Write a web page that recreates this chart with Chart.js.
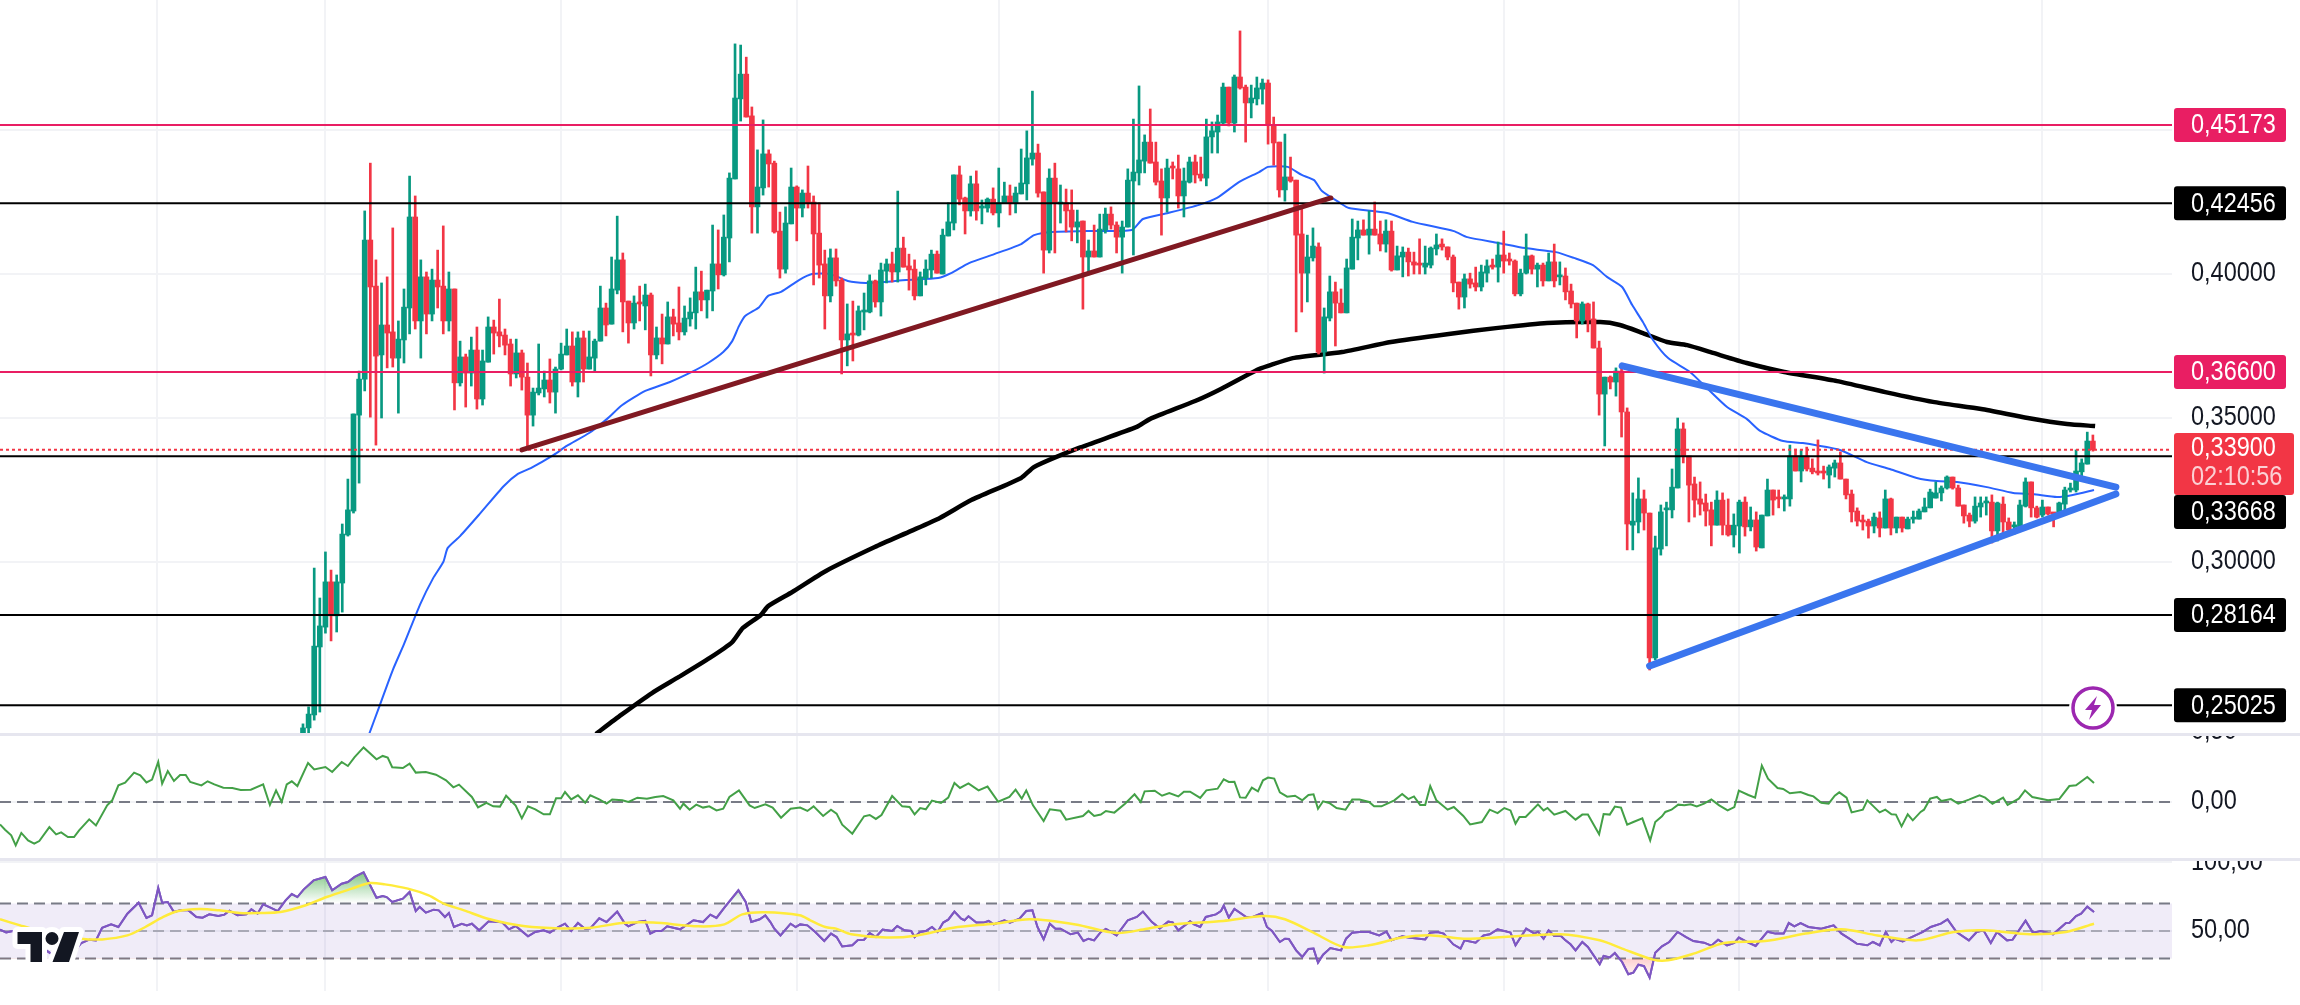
<!DOCTYPE html>
<html>
<head>
<meta charset="utf-8">
<title>Chart</title>
<script src="https://cdn.jsdelivr.net/npm/chart.js@4/dist/chart.umd.js"></script>
<style>
  body { margin: 0; background: #fff; width: 2300px; height: 1005px; overflow: hidden; position: relative; }
  canvas { position: absolute; left: 0; }
  #price-chart { top: 0; }
  #macd-chart { top: 736px; }
  #rsi-chart { top: 861px; }
  .pane-line { position: absolute; left: 0; width: 2300px; height: 3px; background: #e6e6ef; }
</style>
</head>
<body>
<canvas id="price-chart" width="2300" height="733"></canvas>
<div class="pane-line" style="top:733px"></div>
<canvas id="macd-chart" width="2300" height="122"></canvas>
<div class="pane-line" style="top:858px"></div>
<canvas id="rsi-chart" width="2300" height="130"></canvas>
<script>
// candles, one per bar
const opens = [
  .2406,.2424,.2469,.2705,.2774,.2931,.2813,.2927,.3094,.3177,
  .3510,.3635,.4118,.3958,.3719,.3823,.3799,.3708,.3771,.3882,
  .4198,.3837,.3990,.3861,.3979,.3958,.3837,.3948,.3622,.3712,
  .3656,.3736,.3566,.3694,.3816,.3799,.3788,.3757,.3653,.3726,
  .3642,.3510,.3587,.3601,.3632,.3590,.3670,.3719,.3750,.3625,
  .3778,.3670,.3708,.3767,.3882,.3826,.3944,.4049,.3906,.3830,
  .3903,.3889,.3927,.3719,.3778,.3757,.3851,.3830,.3799,.3844,
  .3865,.3938,.3910,.3941,.4035,.3997,.4125,.4330,.4608,.4694,
  .4549,.4233,.4299,.4417,.4385,.4149,.4017,.4174,.4302,.4229,
  .4281,.4250,.4142,.4035,.3924,.4056,.3979,.3771,.3795,.3788,
  .3868,.3868,.3976,.3903,.4010,.4035,.4007,.4090,.4028,.4017,
  .3924,.3986,.4014,.4069,.4000,.4132,.4177,.4344,.4264,.4219,
  .4313,.4229,.4229,.4260,.4212,.4247,.4271,.4247,.4278,.4313,
  .4399,.4420,.4285,.4083,.4333,.4243,.4247,.4222,.4163,.4184,
  .4059,.4080,.4059,.4153,.4208,.4170,.4128,.4163,.4323,.4351,
  .4392,.4458,.4389,.4323,.4264,.4372,.4365,.4271,.4319,.4389,
  .4347,.4333,.4476,.4493,.4524,.4649,.4524,.4684,.4649,.4594,
  .4608,.4642,.4663,.4517,.4458,.4292,.4337,.4326,.4139,.4003,
  .4056,.4094,.3729,.3847,.3938,.3899,.3865,.4017,.4125,.4153,
  .4135,.4156,.4139,.4104,.4149,.4014,.4059,.4076,.4042,.4038,
  .4024,.4031,.4087,.4104,.4094,.4059,.3972,.3920,.3983,.3969,
  .3955,.4003,.4031,.4024,.4066,.4052,.4045,.3931,.4003,.4063,
  .4017,.4031,.3976,.4042,.3990,.3993,.3941,.3899,.3837,.3896,
  .3844,.3743,.3583,.3642,.3625,.3663,.3521,.3128,.3139,.3219,
  .3170,.2667,.3045,.3181,.3181,.3257,.3462,.3368,.3271,.3219,
  .3205,.3181,.3128,.3215,.3128,.3094,.3125,.3208,.3122,.3146,
  .3049,.3160,.3250,.3222,.3219,.3219,.3368,.3316,.3368,.3326,
  .3313,.3313,.3302,.3326,.3344,.3288,.3236,.3177,.3146,.3142,
  .3125,.3153,.3118,.3219,.3118,.3156,.3115,.3149,.3149,.3174,
  .3188,.3222,.3240,.3257,.3295,.3257,.3198,.3163,.3142,.3191,
  .3205,.3208,.3108,.3201,.3139,.3122,.3122,.3194,.3278,.3188,
  .3163,.3191,.3170,.3163,.3201,.3250,.3250,.3313,.3340,.3420,
];
const highs = [
  .2438,.2497,.2979,.2875,.3035,.2972,.2955,.3132,.3288,.3514,
  .3663,.4219,.4385,.4049,.3969,.3990,.4160,.3837,.3948,.4340,
  .4271,.4049,.4007,.4017,.4083,.4167,.4007,.3948,.3767,.3722,
  .3781,.3816,.3736,.3851,.3840,.3913,.3809,.3774,.3774,.3736,
  .3691,.3604,.3757,.3663,.3705,.3677,.3760,.3809,.3799,.3799,
  .3802,.3802,.3774,.3958,.3899,.4059,.4201,.4073,.3906,.3924,
  .3958,.3965,.3934,.3816,.3861,.3903,.3878,.3955,.3889,.3917,
  .4024,.4010,.3944,.4170,.4153,.4205,.4351,.4799,.4795,.4753,
  .4580,.4431,.4535,.4431,.4392,.4215,.4233,.4368,.4306,.4292,
  .4375,.4271,.4247,.4083,.4087,.4087,.3986,.3896,.3906,.3889,
  .3934,.3997,.3979,.4038,.4052,.4076,.4288,.4128,.4069,.4049,
  .4007,.4049,.4083,.4080,.4156,.4247,.4344,.4375,.4267,.4340,
  .4358,.4257,.4264,.4299,.4368,.4319,.4309,.4302,.4434,.4497,
  .4635,.4451,.4285,.4365,.4385,.4309,.4295,.4292,.4222,.4184,
  .4118,.4170,.4208,.4229,.4233,.4181,.4184,.4365,.4538,.4653,
  .4483,.4573,.4458,.4365,.4399,.4389,.4413,.4368,.4406,.4413,
  .4406,.4538,.4528,.4552,.4663,.4649,.4691,.4844,.4656,.4656,
  .4684,.4677,.4674,.4545,.4458,.4486,.4406,.4326,.4229,.4135,
  .4160,.4108,.3882,.3993,.3972,.3948,.4052,.4191,.4184,.4188,
  .4219,.4250,.4184,.4188,.4184,.4097,.4094,.4090,.4076,.4122,
  .4097,.4094,.4139,.4122,.4094,.4066,.3972,.4000,.4003,.4024,
  .4031,.4049,.4052,.4111,.4149,.4073,.4049,.4017,.4139,.4066,
  .4038,.4038,.4073,.4104,.4042,.4021,.3965,.3899,.3903,.3899,
  .3903,.3767,.3642,.3646,.3674,.3674,.3535,.3240,.3292,.3250,
  .3170,.3090,.3198,.3208,.3323,.3500,.3483,.3368,.3295,.3278,
  .3236,.3208,.3247,.3240,.3219,.3167,.3215,.3226,.3191,.3174,
  .3163,.3288,.3250,.3250,.3233,.3406,.3392,.3389,.3399,.3358,
  .3424,.3333,.3337,.3354,.3382,.3288,.3250,.3188,.3163,.3149,
  .3170,.3174,.3250,.3222,.3156,.3156,.3156,.3177,.3184,.3222,
  .3253,.3278,.3264,.3299,.3295,.3267,.3198,.3170,.3226,.3226,
  .3226,.3233,.3208,.3226,.3153,.3139,.3215,.3292,.3278,.3194,
  .3215,.3191,.3170,.3208,.3260,.3274,.3389,.3358,.3451,.3441,
];
const lows = [
  .2406,.2406,.2451,.2479,.2753,.2726,.2757,.2826,.3090,.3170,
  .3274,.3594,.3503,.3406,.3500,.3674,.3677,.3517,.3691,.3792,
  .3809,.3708,.3792,.3837,.3882,.3792,.3802,.3528,.3611,.3538,
  .3611,.3531,.3545,.3694,.3722,.3747,.3719,.3611,.3639,.3597,
  .3396,.3472,.3580,.3573,.3552,.3517,.3667,.3719,.3611,.3573,
  .3625,.3670,.3660,.3767,.3785,.3826,.3931,.3799,.3760,.3809,
  .3837,.3806,.3646,.3705,.3688,.3757,.3785,.3771,.3788,.3819,
  .3809,.3872,.3847,.3872,.3948,.3993,.4042,.4330,.4531,.4545,
  .4142,.4142,.4274,.4302,.4142,.3986,.4003,.4174,.4115,.4198,
  .4229,.3962,.3986,.3809,.3903,.3958,.3653,.3681,.3698,.3785,
  .3806,.3865,.3885,.3854,.3969,.3972,.3972,.4024,.3944,.3910,
  .3924,.3962,.3986,.4003,.4000,.4132,.4153,.4240,.4139,.4201,
  .4187,.4174,.4215,.4205,.4163,.4247,.4205,.4212,.4278,.4257,
  .4378,.4267,.4003,.4073,.4073,.4177,.4146,.4115,.4108,.3878,
  .3997,.4059,.4059,.4142,.4156,.4073,.4003,.4163,.4066,.4309,
  .4351,.4385,.4309,.4135,.4215,.4330,.4229,.4198,.4316,.4316,
  .4323,.4306,.4420,.4420,.4521,.4514,.4493,.4642,.4458,.4542,
  .4587,.4590,.4451,.4378,.4267,.4253,.4319,.3799,.3868,.3903,
  .4045,.3722,.3656,.3837,.3750,.3865,.3865,.4017,.4049,.4135,
  .4069,.4135,.4080,.4076,.4010,.4014,.3990,.3993,.4000,.4000,
  .4000,.4021,.4066,.4083,.4049,.3938,.3878,.3882,.3951,.3941,
  .3941,.3972,.4017,.3972,.4003,.4031,.3924,.3924,.4000,.4000,
  .3955,.3958,.3976,.3955,.3962,.3910,.3882,.3778,.3826,.3799,
  .3743,.3510,.3403,.3601,.3576,.3434,.3042,.3042,.3101,.3111,
  .2625,.2660,.3024,.3056,.3153,.3257,.3344,.3139,.3156,.3163,
  .3125,.3056,.3128,.3094,.3090,.3052,.3031,.3090,.3108,.3038,
  .3049,.3160,.3163,.3188,.3177,.3194,.3316,.3278,.3316,.3306,
  .3302,.3288,.3257,.3295,.3288,.3219,.3139,.3125,.3111,.3083,
  .3101,.3087,.3118,.3094,.3101,.3104,.3115,.3135,.3149,.3174,
  .3188,.3222,.3212,.3253,.3253,.3194,.3135,.3122,.3135,.3156,
  .3163,.3066,.3073,.3101,.3101,.3097,.3122,.3191,.3156,.3153,
  .3156,.3163,.3122,.3160,.3174,.3243,.3243,.3295,.3340,.3385,
];
const closes = [
  .2424,.2472,.2708,.2778,.2931,.2813,.2931,.3097,.3181,.3514,
  .3635,.4118,.3955,.3715,.3823,.3795,.3708,.3774,.3885,.4198,
  .3837,.3990,.3861,.3979,.3955,.3837,.3948,.3622,.3712,.3656,
  .3736,.3566,.3698,.3816,.3795,.3785,.3753,.3653,.3726,.3642,
  .3510,.3590,.3604,.3632,.3590,.3670,.3722,.3750,.3625,.3778,
  .3670,.3712,.3767,.3882,.3823,.3948,.4049,.3903,.3830,.3899,
  .3896,.3927,.3719,.3778,.3757,.3851,.3826,.3799,.3847,.3868,
  .3938,.3910,.3944,.4035,.3997,.4128,.4333,.4611,.4694,.4545,
  .4233,.4302,.4417,.4382,.4146,.4017,.4177,.4302,.4229,.4281,
  .4247,.4139,.4031,.3924,.4056,.3976,.3771,.3792,.3788,.3872,
  .3875,.3976,.3903,.4014,.4035,.4007,.4090,.4024,.4014,.3924,
  .3990,.4017,.4069,.4003,.4135,.4181,.4344,.4260,.4219,.4313,
  .4219,.4233,.4260,.4212,.4247,.4271,.4247,.4281,.4316,.4403,
  .4420,.4281,.4083,.4333,.4247,.4250,.4219,.4163,.4181,.4059,
  .4080,.4059,.4156,.4208,.4170,.4128,.4163,.4326,.4354,.4396,
  .4458,.4385,.4319,.4264,.4368,.4368,.4271,.4323,.4389,.4344,
  .4333,.4476,.4497,.4528,.4649,.4524,.4684,.4646,.4594,.4611,
  .4646,.4663,.4517,.4455,.4292,.4337,.4323,.4135,.4003,.4059,
  .4097,.3729,.3851,.3938,.3899,.3865,.4021,.4128,.4153,.4135,
  .4156,.4135,.4104,.4149,.4014,.4063,.4076,.4042,.4031,.4031,
  .4038,.4090,.4101,.4094,.4059,.3969,.3920,.3983,.3965,.3955,
  .4007,.4028,.4024,.4066,.4045,.4045,.3931,.4003,.4063,.4017,
  .4031,.3976,.4042,.3976,.3997,.3938,.3896,.3837,.3896,.3840,
  .3743,.3583,.3642,.3625,.3663,.3521,.3132,.3142,.3219,.3170,
  .2667,.3049,.3174,.3184,.3260,.3462,.3368,.3267,.3215,.3201,
  .3177,.3128,.3215,.3128,.3094,.3128,.3208,.3122,.3146,.3052,
  .3163,.3250,.3215,.3219,.3222,.3368,.3316,.3368,.3323,.3313,
  .3309,.3309,.3330,.3344,.3288,.3233,.3174,.3142,.3139,.3125,
  .3156,.3118,.3219,.3118,.3156,.3118,.3149,.3153,.3177,.3191,
  .3243,.3240,.3257,.3295,.3257,.3194,.3160,.3142,.3194,.3205,
  .3208,.3108,.3205,.3139,.3111,.3125,.3198,.3278,.3188,.3156,
  .3191,.3167,.3167,.3205,.3250,.3253,.3316,.3344,.3420,.3390,
];

// moving averages on the price pane
const ema50Bars = [11.8,13.5,16,18,20.9,23.2,25,25.8,28,31.5,35.8,38.3,40.6,44.7,47,51,54.2,56.9,61,65.4,69.3,72.2,74.9,76.5,77.7,78.8,81.3,82.9,85.2,88.4,90.7,93.9,97.1,100.3,103.5,107.5,113.2,115.5,118.7,123.2,128,130.3,133.5,139.7,147.7,149.7,154.2,159.7,162.9,166.8,170.4,172,175.5,178,180.2,181.6,184.8,186.4,193.2,197.8,205.1,207.5,213,217.8,223.3,226.5,229.9,232.4,235.1,236.9,238.8,240.6,243.3,247.2,250.2,253.8,257.3,259.7,263.8,267.3,273.9,278.7,282.8,287.6,291.2,294.8,300.1,304.8,308.3,312.6,315.4,319.2];
const ema50 = [.2403,.2493,.2625,.2715,.2854,.2944,.3000,.3049,.3090,.3167,.3264,.3306,.3326,.3372,.3403,.3448,.3497,.3545,.3594,.3625,.3660,.3691,.3729,.3767,.3819,.3854,.3885,.3924,.3938,.3979,.4000,.4000,.3976,.3969,.3972,.3979,.3986,.4003,.4038,.4069,.4104,.4135,.4146,.4149,.4153,.4191,.4212,.4240,.4264,.4319,.4354,.4372,.4372,.4344,.4326,.4288,.4247,.4229,.4212,.4181,.4149,.4128,.4108,.4090,.4076,.4056,.4031,.3990,.3955,.3892,.3833,.3771,.3708,.3660,.3604,.3538,.3497,.3455,.3420,.3413,.3389,.3347,.3323,.3292,.3281,.3278,.3260,.3240,.3236,.3226,.3233,.3250];
const ema200Bars = [52.2,56.7,62.2,67,72.5,76.5,78.4,81.6,82.9,87.2,93.2,101.9,108.4,113.5,119.1,128,130.3,138.3,148.6,151,159,163.6,170,172,176.4,185.2,193.9,204.2,213,221.7,231.2,234.7,238.8,243.1,246.7,251.3,257.3,264,273.4,282,290.5,299.1,307.4,314.4,319.4];
const ema200 = [.2403,.2469,.2545,.2601,.2667,.2722,.2771,.2816,.2847,.2896,.2969,.3052,.3108,.3153,.3215,.3292,.3330,.3396,.3469,.3497,.3559,.3601,.3667,.3681,.3708,.3729,.3764,.3792,.3813,.3830,.3833,.3823,.3795,.3764,.3753,.3726,.3691,.3660,.3628,.3590,.3556,.3531,.3500,.3479,.3472];

// drawn levels and trend lines
const redLevels = [0.45173, 0.366];
const blackLevels = [0.42456, 0.33668, 0.28164, 0.25025];
const lastPrice = 0.339;
const brownTrendBars = [39, 183.2];
const brownTrend = [.3389, .4264];
const upperTrendBars = [235.1, 323.1];
const upperTrend = [.3681, .3260];
const lowerTrendBars = [240, 323.1];
const lowerTrend = [.2639, .3236];

// oscillator (green line)
const macdBars = [-54,-53.1,-52,-51.2,-50.2,-49,-47.9,-47,-45.2,-44,-43.1,-41.9,-40.8,-39.9,-38.1,-36.9,-34.9,-34,-32.9,-31.7,-30.1,-29,-27.9,-26.9,-25.8,-25.1,-24.1,-23,-21.9,-20.9,-20.1,-18.1,-17,-15.8,-14.2,-12.6,-11.1,-9.3,-7.1,-5.9,-4.8,-3.8,-2.9,-2,-1,.9,2,4,5.2,6.9,8,9.2,10.8,13.1,14.2,15.1,15.9,17.8,19,20.1,21.9,23.7,25.5,26.8,27.8,30.1,31.2,32.7,33.9,35.1,36.2,37.9,39,40.1,41.4,42.9,44,45.1,46,46.7,47.8,49,50.3,51.2,52.8,54.1,55.1,56.9,58,59.6,61.3,62.8,64.2,66,67.2,67.8,68.9,70.1,71.3,72.4,73.7,74.9,76,77.7,79.6,80.5,82.4,83.7,85.2,86.9,
  88.6,89.9,91,92.7,94.1,95.1,96.1,97.9,100,101,102.1,103.1,105,106.8,108.1,109,110,111,112.1,113.7,115,116.1,117.1,118.6,120.4,122,123.9,125.9,127,128.1,128.9,130.1,132,133.1,135,136,139,140,141,142.2,143.1,144.6,146.5,148.2,149.3,150,151.8,153.1,154.4,156,157,158.1,159.9,161,163,164.1,165,166,167,168,169.1,170.2,171.1,172,173.1,174.1,175.4,176.8,178.1,179.2,180.1,180.9,181.8,182.9,184.2,185.8,187,188.3,190,190.9,192.2,194.5,195.9,197,198,199.1,200,200.9,202,204,205.1,206.8,208,210.1,211.5,212.9,214.1,215.2,216.1,216.8,217.9,220.1,221.1,221.8,223,225,226.8,228,229,
  231,231.8,232.9,233.8,234.9,236,237.1,238.7,240.1,241,242.2,242.8,243.9,245.1,246.2,247.3,248.4,249.7,251,252.4,253.9,255.1,255.9,257.6,258.8,260,261.1,262.8,263.8,265,266.9,268.3,269.2,270.6,271.9,273,273.8,275.1,276,278,278.8,281,282,283.1,283.9,284.9,286,286.9,288.3,288.9,290,291.2,292,293.7,295,296.9,298.8,299.8,301.1,303,303.8,305.8,306.9,308.2,311,313,314.8,316,318,319.2];
const macdValues = [-.160,-.198,-.238,-.310,-.221,-.274,-.298,-.279,-.179,-.231,-.217,-.250,-.250,-.202,-.124,-.167,-.024,.012,.119,.138,.210,.190,.140,.160,.286,.131,.221,.150,.193,.193,.143,.119,.148,.126,.102,.100,.086,.088,.126,-.021,.083,0,.126,.148,.114,.279,.233,.250,.214,.286,.257,.321,.390,.305,.329,.317,.248,.243,.274,.210,.214,.195,.155,.105,.124,.036,-.038,-.007,-.031,-.033,.045,-.026,-.117,-.031,-.052,-.088,-.088,.026,.026,.071,.019,.048,-.005,.048,.019,-.012,.017,.012,0,.031,.024,.036,.043,.012,-.048,-.012,-.055,-.019,-.040,-.031,-.060,-.048,.036,.083,-.024,-.043,-.017,-.040,-.112,-.048,
  -.040,-.064,-.031,-.100,-.055,-.083,-.162,-.226,-.102,-.093,-.121,-.093,.043,-.031,-.036,-.088,-.043,-.052,.010,-.007,.031,.136,.100,.133,.083,.110,.002,.036,.088,.024,.083,-.024,-.136,-.052,-.062,-.126,-.100,-.064,-.100,-.090,-.064,-.076,-.012,.055,0,.076,.081,.045,.064,.040,.074,.074,.029,.083,.095,.162,.143,.145,.033,.031,.102,.076,.155,.174,.167,.069,.038,.045,.012,.050,.055,-.048,.005,-.007,-.043,-.055,.017,.017,0,-.031,-.031,.012,.057,.021,.040,-.021,-.021,.114,.012,-.055,-.036,-.100,-.160,-.143,-.055,-.079,-.043,-.060,-.155,-.107,-.107,-.017,-.060,-.043,-.090,-.064,-.126,-.090,-.090,
  -.231,-.086,-.090,-.033,-.040,-.162,-.143,-.117,-.274,-.143,-.102,-.071,-.055,-.019,-.024,-.017,-.031,-.012,.019,-.024,-.060,-.036,.081,.050,.031,.260,.167,.100,.093,.062,.071,.050,.040,-.005,-.012,.045,.069,.031,-.074,-.055,.012,-.074,-.055,-.088,-.090,-.174,-.088,-.131,-.071,-.055,.024,.036,.007,.021,-.012,.017,.048,.031,-.012,.031,-.021,.024,.083,.036,.012,.021,.114,.119,.179,.136];

// RSI and its average
const rsiBars = [-54,-52.9,-51.7,-50.4,-48.5,-46.7,-44.9,-43.1,-40.8,-39.5,-38.1,-36.9,-35.8,-34.2,-32.9,-31.3,-29.3,-27.9,-26.9,-25.8,-25.1,-24.1,-23,-21.9,-20.4,-19,-17.9,-16.7,-15.1,-14,-13.1,-11.7,-10.1,-9.2,-8.1,-7.1,-5.8,-4.5,-3.1,-2,-1,.1,1.9,4,5.2,6.9,8,9.2,10.8,13.1,14.2,14.9,15.9,17.8,19,20.1,20.8,21.9,23.3,24.2,25.3,26,26.9,28.3,29.2,30.1,31.4,33.1,35.5,36.7,37.9,40.1,41.4,42.9,44,45.5,46.7,47.8,49,50.3,51.2,52.8,54.1,56,57.4,58,59.6,61,61.9,62.8,63.9,64.9,67.2,69.6,71.3,72.6,73.7,75.1,77.6,78.9,79.9,81.4,82.4,83.3,84,85.1,86.9,87.8,
  88.6,89.9,91.3,92.9,94.1,95.1,96.1,97.9,98.9,100,101,102.1,103.3,105,105.9,107.2,108.4,109,110,111,112.1,113.1,114.1,115,116.1,117.3,117.9,118.6,120,121.3,122.2,123.1,125,126,127.7,128.9,130,130.9,132,133.1,134.1,135,136.8,138.1,139.1,140,141,142.2,143.1,145,147,148.6,149.7,151.3,152.7,154.2,155,156,158.1,158.8,159.9,160.9,162.7,163.6,164.1,165,166,168.1,169.3,170.9,171.8,172.7,174.1,175,175.7,177,178.1,179.2,180.1,180.9,181.8,183.1,185,185.9,187,188.3,190,191.8,193.1,194,195.9,197,200,200.9,202.2,203.3,205,206.3,207,209,210.4,211.5,212.9,215.2,216.1,218,219.5,220.1,221.1,222,223,224.2,225,225.9,226.8,228,229,231.1,
  231.8,232.9,233.8,235.1,236.2,237.1,238,239,240,241,242.2,243.5,245,246.5,247.8,249.7,251,252.2,253.8,255.1,255.9,257.6,258.9,261,262.4,263.9,264.8,265.8,266.9,268.3,270.6,272.8,274.2,275.6,276.9,278.8,279.8,281,282.1,283.1,283.7,285.1,286.5,288.7,290.1,291.9,293.1,294.7,296.9,298.3,299.5,300.8,301.9,303.7,304.7,307,308.3,309.7,311.9,314.2,314.8,316,316.9,318,319.2];
const rsiValues = [51,49,50,48,45.6,38.4,33.5,33.5,34.7,41.3,43.7,43.2,52.4,54.8,52.9,62.6,70.6,59.5,61.4,81.3,70.6,71.1,63.8,65,65,60.2,59.7,62.1,60.9,61.9,64.8,61.4,62.1,65.8,62.6,69.4,67,64.5,72.3,76.9,74.7,80.1,86.8,89.3,79.6,84.4,85.6,89.3,92.7,74.2,75.5,74.7,71.1,73.5,78.4,64.5,67.5,63.3,65.5,65,60.2,63.1,52.9,55.3,54.1,55.3,50.5,57,56.3,51.2,53.6,46.1,49.3,50.5,48.8,52.9,55.3,50,55.8,51.5,51.9,59.2,56.5,64.1,55.3,53.4,56.5,57.3,48.1,50,50,53.4,51.2,57.8,56.5,61.9,59.5,67,79.6,71.1,56.5,58.5,61.4,56.5,51.7,46.8,55.3,52.9,
  54.8,54.1,49.3,42.7,48.1,45.6,38.8,39.6,43.5,43.7,48.5,45.6,51,50,53.6,50.5,50,45.6,49.3,50,52.9,49.3,56.1,58.2,64.1,59,57.8,60.7,56.1,56.1,57.3,54.8,57.8,56.1,59,64.5,65,52.9,43.9,55.3,51.7,51.7,47.6,48.8,42.7,44.4,43.2,49.3,51.5,46.8,57.8,60.2,64.1,56.5,51.9,56.8,56.3,50.5,57,54.8,52.9,60.2,62.1,64.5,68.4,59.7,66,60.2,60.2,63.1,52.9,50,42,44.4,44.2,35.9,31.1,36.9,37.2,27,32.8,37.6,35.9,44.4,48.8,49.3,49.3,46.8,49.5,43.2,46.1,45.2,43.9,48.8,49.3,48.1,40.3,37.2,43.2,41.5,46.8,47.6,51.2,48.8,39.6,51.7,48.1,49.5,44.4,50.5,46.4,46.4,43.2,40.3,35.9,42,38.4,25.8,
  31.8,30.8,34,27.5,18.5,19.7,25.5,24.5,16.1,34.2,38.8,42,49.3,45.6,42.7,41.5,39.3,43.7,39.6,41.3,45.2,41.5,39.1,49.5,48.1,48.1,55.8,53.4,55.8,52.9,51.7,54.1,48.1,44.4,40.8,39.6,42,39.6,49.3,42,44.4,42.5,45.2,49.3,52.9,55.3,58.5,49.3,43.2,49.3,50.5,41.3,49.3,43.2,43.7,57.5,48.8,50,47.6,55.8,55.8,60.9,62.6,67.7,63.8];
const rsiMaBars = [-54,-50.4,-47.6,-44,-39.5,-35.8,-31.3,-28.1,-24.9,-22.2,-18.5,-14.9,-11.3,-7.6,-4,.5,4.2,8.7,11.9,14.6,18.7,22.4,25.1,28.7,33.3,39.6,46,51.4,56.9,62.4,70.5,75.1,78.3,82.4,88.5,90.4,93.1,95,97.7,104,109.5,115.9,123.1,129.5,137.7,145,150.4,155,164,171.3,175,180.4,185.4,190,195.9,201.3,206.8,214,224,231.1,235.1,240.6,243.3,247.8,253.3,260.6,267.8,274.2,280.6,287.8,294.2,299.7,307.8,314.2,319.2];
const rsiMa = [58.5,54.1,50.9,48.1,44.4,43.9,46.8,52.9,60.2,64.5,66,65,63.1,63.1,63.8,68.7,74.7,80.8,84.9,83.9,80.8,75.9,69.9,65,58.5,53.4,51.9,52.4,55.8,56.1,53.4,54.8,62.1,63.6,61.4,57.8,52.9,51.7,47.6,45.2,46.8,52.4,55.3,58.5,54.8,48.5,51.7,54.8,57.3,60.9,58.5,48.1,38.4,39.6,45.2,46.8,44.4,45.6,47.6,43.2,37.2,29.2,28.7,33.5,41.3,42.7,48.1,51.2,46.8,43.2,49.3,50.5,47.6,49.3,55.3];

// axes
const priceTicks = [0.25, 0.3, 0.35, 0.4, 0.45];
const hiddenPriceTicks = [0.25, 0.45];
const macdTicks = [0, 0.5];
const rsiTicks = [50, 100];
const rsiBandTop = 70;
const rsiBandBottom = 30;
const timeGridBars = [-26, 4, 46, 88, 124, 172, 214, 256, 310];

// price tags on the right
const tagValues = [0.45173, 0.42456, 0.366, 0.33668, 0.28164, 0.25025];
const tagTexts = ["0,45173", "0,42456", "0,36600", "0,33668", "0,28164", "0,25025"];
const lastPriceText = "0,33900";
const countdownText = "02:10:56";

const GREEN = "#089981";
const RED = "#f23645";
const PINK = "#e91e63";
const BLUE = "#2962ff";
const TREND_BLUE = "#3a75ee";
const GRID = "#f2f3f6";
const TEXT = "#131722";
const DASH = "#787b86";
const AXIS_FONT = "27px 'Liberation Sans', sans-serif";
const AXIS_WIDTH = 128;
const LABEL_X = 2191;
const X_MIN = -54;
const X_MAX = 333.1;

const decimalComma = (value, digits) => value.toFixed(digits).replace(".", ",");
const zip = (xs, ys) => xs.map((x, i) => ({ x: x, y: ys[i] }));
const candleColor = (c) => (closes[c.dataIndex] >= opens[c.dataIndex] ? GREEN : RED);

// the axis text in the picture is narrower than any installed font
function narrowText(ctx, text, x, y, color) {
  ctx.save();
  ctx.font = AXIS_FONT;
  ctx.textAlign = "left";
  ctx.textBaseline = "middle";
  ctx.fillStyle = color;
  ctx.translate(x, y);
  ctx.scale(0.87, 1);
  ctx.fillText(text, 0, 0);
  ctx.restore();
}

function lineSet(points, color, width, order, extra) {
  return Object.assign({
    type: "line",
    data: points,
    borderColor: color,
    borderWidth: width,
    pointRadius: 0,
    fill: false,
    order: order,
  }, extra);
}

function flatLine(value, color, width, order, extra) {
  return lineSet([{ x: X_MIN, y: value }, { x: X_MAX, y: value }], color, width, order, extra);
}

function xAxis() {
  return {
    type: "linear",
    min: X_MIN,
    max: X_MAX,
    offset: false,
    border: { display: false },
    grid: { color: GRID, lineWidth: 2, drawTicks: false, offset: false },
    ticks: { display: false, autoSkip: false },
    afterBuildTicks: (axis) => { axis.ticks = timeGridBars.map((v) => ({ value: v })); },
    afterFit: (axis) => { axis.height = 0; },
  };
}

function yAxis(min, max, ticks, label) {
  return {
    position: "right",
    min: min,
    max: max,
    border: { display: false },
    grid: { color: GRID, lineWidth: 2, drawTicks: false },
    ticks: { display: false, autoSkip: false, callback: label },
    afterBuildTicks: (axis) => { axis.ticks = ticks.map((v) => ({ value: v })); },
    afterFit: (axis) => {
      axis.width = AXIS_WIDTH;
      axis.paddingTop = 0;
      axis.paddingBottom = 0;
    },
  };
}

function baseOptions(yScale) {
  return {
    responsive: false,
    animation: false,
    layout: { padding: 0 },
    plugins: { legend: { display: false }, tooltip: { enabled: false } },
    scales: { x: xAxis(), y: yScale },
  };
}

// writes the labels of the y axis ticks
const axisLabels = {
  id: "axisLabels",
  afterDraw(chart) {
    const axis = chart.scales.y;
    axis.ticks.forEach((tick) => {
      if (tick.label) {
        narrowText(chart.ctx, tick.label, LABEL_X, axis.getPixelForValue(tick.value), TEXT);
      }
    });
  },
};

function drawTag(ctx, top, height, width, color) {
  ctx.fillStyle = color;
  ctx.beginPath();
  ctx.roundRect(2174, top, width, height, 3);
  ctx.fill();
}

// boxes with the level prices and the purple bolt icon
const priceDecorations = {
  id: "priceDecorations",
  afterDraw(chart) {
    const ctx = chart.ctx;
    const y = chart.scales.y;
    ctx.save();

    // bolt icon sits on the lowest level line
    ctx.beginPath();
    ctx.fillStyle = "#fff";
    ctx.arc(2093, 708, 24, 0, Math.PI * 2);
    ctx.fill();
    ctx.beginPath();
    ctx.strokeStyle = "#9c27b0";
    ctx.lineWidth = 3.5;
    ctx.arc(2093, 708, 20, 0, Math.PI * 2);
    ctx.stroke();
    ctx.beginPath();
    ctx.fillStyle = "#9c27b0";
    ctx.moveTo(2097, 696);
    ctx.lineTo(2085, 710);
    ctx.lineTo(2092, 710);
    ctx.lineTo(2089, 720);
    ctx.lineTo(2101, 705);
    ctx.lineTo(2094, 705);
    ctx.closePath();
    ctx.fill();

    tagValues.forEach((value, i) => {
      const isRed = redLevels.includes(value);
      // the 0,33668 tag gets pushed below the last price box
      const center = value === 0.33668 ? 512 : y.getPixelForValue(value);
      drawTag(ctx, center - 17, 34, 112, isRed ? PINK : "#000");
      narrowText(ctx, tagTexts[i], LABEL_X, center + 1, "#fff");
    });

    drawTag(ctx, 433, 62, 120, RED);
    narrowText(ctx, lastPriceText, LABEL_X, 449, "#fff");
    narrowText(ctx, countdownText, LABEL_X, 478, "#fbd0d4");
    ctx.restore();
  },
};

// TradingView mark in the corner of the last pane
const logoMark = {
  id: "logoMark",
  afterDraw(chart) {
    const ctx = chart.ctx;
    ctx.save();
    ctx.beginPath();
    ctx.moveTo(17.5, 71);
    ctx.lineTo(42, 71);
    ctx.lineTo(42, 101);
    ctx.lineTo(30.5, 101);
    ctx.lineTo(30.5, 83);
    ctx.lineTo(17.5, 83);
    ctx.closePath();
    ctx.moveTo(64, 71);
    ctx.lineTo(79, 71);
    ctx.lineTo(69, 101);
    ctx.lineTo(52.5, 101);
    ctx.closePath();
    ctx.moveTo(58.5, 77.5);
    ctx.arc(52, 77.5, 6.5, 0, Math.PI * 2);
    ctx.lineJoin = "round";
    ctx.strokeStyle = "#fff";
    ctx.lineWidth = 10;
    ctx.stroke();
    ctx.fillStyle = TEXT;
    ctx.fill();
    ctx.restore();
  },
};

// price pane
new Chart(document.getElementById("price-chart"), {
  type: "bar",
  data: {
    datasets: [
      lineSet(zip(ema200Bars, ema200), "#000", 4.5, 6, { tension: 0.2 }),
      lineSet(zip(ema50Bars, ema50), BLUE, 2, 5, { tension: 0.2 }),
      {
        label: "wicks",
        data: lows.map((low, i) => ({ x: i, y: [low, highs[i]] })),
        backgroundColor: candleColor,
        barThickness: 2,
        grouped: false,
        order: 4,
      },
      {
        label: "bodies",
        data: opens.map((open, i) => ({ x: i, y: [open, closes[i]] })),
        backgroundColor: candleColor,
        barThickness: 5,
        minBarLength: 2,
        grouped: false,
        order: 3,
      },
      ...redLevels.map((v) => flatLine(v, PINK, 2, 2)),
      ...blackLevels.map((v) => flatLine(v, "#000", 2, 2)),
      flatLine(lastPrice, RED, 2, 2, { borderDash: [3, 3] }),
      lineSet(zip(brownTrendBars, brownTrend), "#801922", 5, 1, { borderCapStyle: "round" }),
      lineSet(zip(upperTrendBars, upperTrend), TREND_BLUE, 7, 1, { borderCapStyle: "round" }),
      lineSet(zip(lowerTrendBars, lowerTrend), TREND_BLUE, 7, 1, { borderCapStyle: "round" }),
    ],
  },
  options: baseOptions(yAxis(0.24063, 0.49514, priceTicks, (value) =>
    hiddenPriceTicks.includes(value) ? "" : decimalComma(value, 5))),
  plugins: [axisLabels, priceDecorations],
});

// oscillator pane
new Chart(document.getElementById("macd-chart"), {
  type: "line",
  data: {
    datasets: [
      lineSet(zip(macdBars, macdValues), "#43a047", 2, 1),
      flatLine(0, DASH, 2, 2, { borderDash: [11, 6] }),
    ],
  },
  options: baseOptions(yAxis(-0.4, 0.4714, macdTicks, (value) => decimalComma(value, 2))),
  plugins: [axisLabels],
});

// RSI pane
const rsiCanvas = document.getElementById("rsi-chart");
const rsiCtx = rsiCanvas.getContext("2d");
const overbought = rsiCtx.createLinearGradient(0, 11, 0, 42);
overbought.addColorStop(0, "rgba(76, 175, 80, 0.7)");
overbought.addColorStop(1, "rgba(76, 175, 80, 0)");
const oversold = rsiCtx.createLinearGradient(0, 97, 0, 116);
oversold.addColorStop(0, "rgba(255, 82, 82, 0.28)");
oversold.addColorStop(1, "rgba(255, 82, 82, 0.04)");

const rsiPoints = zip(rsiBars, rsiValues);
new Chart(rsiCanvas, {
  type: "line",
  data: {
    datasets: [
      flatLine(rsiBandTop, DASH, 2, 6, {
        borderDash: [11, 6],
        fill: { target: { value: rsiBandBottom }, above: "rgba(126, 87, 194, 0.115)" },
      }),
      flatLine(50, "rgba(120, 123, 134, 0.55)", 2, 5, { borderDash: [11, 6] }),
      flatLine(rsiBandBottom, DASH, 2, 5, { borderDash: [11, 6] }),
      lineSet(rsiPoints, "#7e57c2", 2, 2, {
        fill: { target: { value: rsiBandTop }, above: overbought, below: "transparent" },
      }),
      lineSet(rsiPoints, "#7e57c2", 2, 2, {
        fill: { target: { value: rsiBandBottom }, above: "transparent", below: oversold },
      }),
      lineSet(zip(rsiMaBars, rsiMa), "#ffeb3b", 2.5, 1, { tension: 0.3 }),
    ],
  },
  options: baseOptions(yAxis(6.36, 100.9, rsiTicks, (value) => decimalComma(value, 2))),
  plugins: [axisLabels, logoMark],
});
</script>
</body>
</html>
